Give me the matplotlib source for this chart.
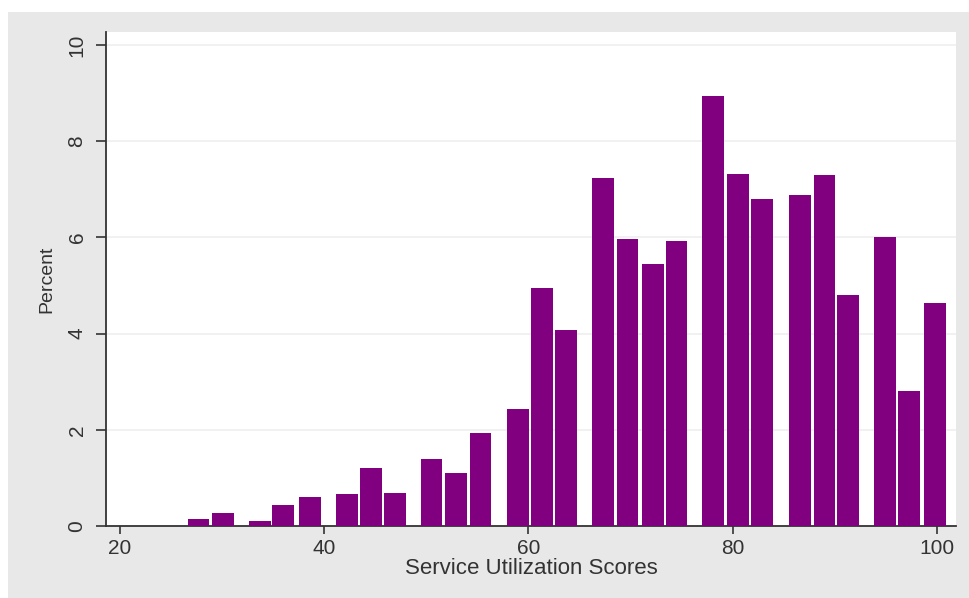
import numpy as np
import matplotlib
matplotlib.use('Agg')
import matplotlib.pyplot as plt
from matplotlib.patches import Rectangle

plt.rcParams['font.family'] = ['Liberation Sans', 'DejaVu Sans']

# bar centres (score) and heights (percent)
scores = [27.7, 30.1, 33.7, 36.0, 38.6, 42.2, 44.6, 46.9, 50.5, 52.9, 55.3,
          59.0, 61.3, 63.7, 67.3, 69.7, 72.2, 74.5, 78.1, 80.5, 82.9,
          86.6, 89.0, 91.3, 94.9, 97.3, 99.8]
percent = [0.15, 0.28, 0.11, 0.44, 0.60, 0.66, 1.21, 0.69, 1.39, 1.11, 1.94,
           2.43, 4.95, 4.07, 7.23, 5.96, 5.45, 5.93, 8.93, 7.32, 6.80,
           6.88, 7.30, 4.80, 6.00, 2.81, 4.64]
xticks = [20, 40, 60, 80, 100]
yticks = [0, 2, 4, 6, 8, 10]

W, H = 969, 598
fig = plt.figure(figsize=(W / 100, H / 100), dpi=100, facecolor='white')
# grey outer region (graph region)
fig.patches.append(Rectangle((8 / W, 0), 1 - 8 / W, 1 - 12 / H,
                             transform=fig.transFigure, facecolor='#e8e8e8',
                             edgecolor='none', zorder=-10))

ax = fig.add_axes([106 / W, (H - 526) / H, 850 / W, 494 / H])
ax.set_facecolor('white')
ax.bar(scores, percent, width=2.13, color='#800080', edgecolor='none', zorder=3)

ax.set_xlim(18.63, 101.88)
ax.set_ylim(0, 10.27)
ax.set_xticks(xticks)
ax.set_yticks(yticks)
ax.grid(axis='y', color='#efefef', linewidth=1.2, zorder=0)
ax.grid(axis='x', visible=False)

for s in ['top', 'right']:
    ax.spines[s].set_visible(False)
for s in ['left', 'bottom']:
    ax.spines[s].set_color('#333333')
    ax.spines[s].set_linewidth(1.3)

ax.tick_params(axis='y', length=7, width=1.2, color='#333333', labelsize=15,
               labelcolor='#333333', labelrotation=90, pad=7)
ax.tick_params(axis='x', length=6, width=1.2, color='#333333', labelsize=15,
               labelcolor='#333333', pad=3)
for lbl in ax.get_yticklabels():
    lbl.set_va('center')

ax.set_xlabel('Service Utilization Scores', fontsize=16, color='#333333', labelpad=0)
ax.set_ylabel('Percent', fontsize=14, color='#333333', labelpad=9)

fig.savefig('out.png', dpi=100, facecolor=fig.get_facecolor())
